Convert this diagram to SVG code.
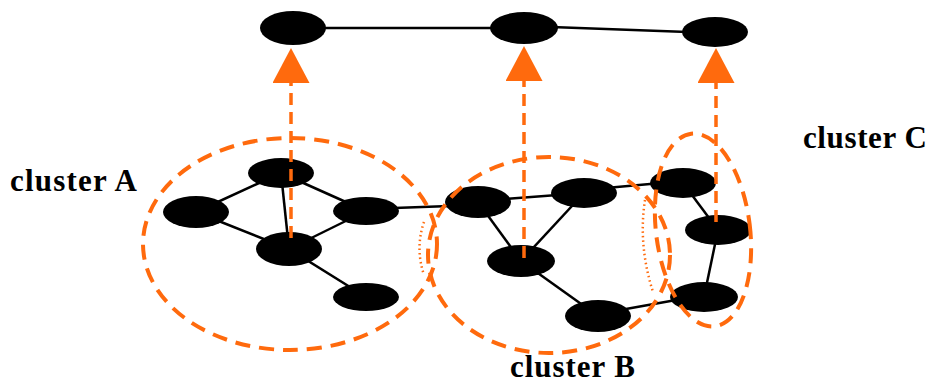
<svg xmlns="http://www.w3.org/2000/svg" width="931" height="383" viewBox="0 0 931 383">
<style>
.node{fill:#000}
.edge{stroke:#000;stroke-width:2.5;fill:none}
.cluster{fill:none;stroke:#FF6A0D;stroke-width:4;stroke-dasharray:15 9}
.dot{fill:none;stroke:#FF6A0D;stroke-width:2.5;stroke-dasharray:1.5 3}
.map{stroke:#FF6A0D;stroke-width:3.5;stroke-dasharray:12 7;fill:none}
.label{font-family:"Liberation Serif","Times New Roman",serif;font-weight:bold;font-size:31px;fill:#000}
</style>
<defs>
<marker id="tri" markerUnits="userSpaceOnUse" markerWidth="36" markerHeight="38" refX="0" refY="18.5" orient="auto" viewBox="0 0 36 38">
<path d="M0,0 L35,18.5 L0,37 Z" fill="#FF6A0D"/>
</marker>
</defs>
<rect width="931" height="383" fill="#fff"/>
<g id="edges">
<line class="edge" x1="293" y1="28" x2="524" y2="28"/>
<line class="edge" x1="524" y1="26" x2="715" y2="33"/>
<line class="edge" x1="281" y1="173" x2="196" y2="212"/>
<line class="edge" x1="281" y1="173" x2="366" y2="211"/>
<line class="edge" x1="281" y1="173" x2="289" y2="249"/>
<line class="edge" x1="196" y1="212" x2="289" y2="249"/>
<line class="edge" x1="366" y1="211" x2="289" y2="249"/>
<line class="edge" x1="289" y1="249" x2="366" y2="297"/>
<line class="edge" x1="366" y1="209" x2="478" y2="205"/>
<line class="edge" x1="478" y1="201" x2="584" y2="193"/>
<line class="edge" x1="478" y1="202" x2="521" y2="261"/>
<line class="edge" x1="584" y1="193" x2="521" y2="261"/>
<line class="edge" x1="521" y1="261" x2="598" y2="316"/>
<line class="edge" x1="584" y1="190" x2="683" y2="181"/>
<line class="edge" x1="598" y1="314" x2="704" y2="295"/>
<line class="edge" x1="683" y1="183" x2="718" y2="230"/>
<line class="edge" x1="718" y1="230" x2="704" y2="297"/>
</g>
<g id="T1"><ellipse class="node" cx="293" cy="28" rx="33" ry="17"/></g>
<g id="T2"><ellipse class="node" cx="524" cy="28" rx="34" ry="16"/></g>
<g id="T3"><ellipse class="node" cx="715" cy="32" rx="33" ry="15"/></g>
<g id="A1"><ellipse class="node" cx="281" cy="173" rx="33" ry="15"/></g>
<g id="A2"><ellipse class="node" cx="196" cy="212" rx="33" ry="16"/></g>
<g id="A3"><ellipse class="node" cx="366" cy="211" rx="33" ry="14"/></g>
<g id="A4"><ellipse class="node" cx="289" cy="249" rx="33" ry="17"/></g>
<g id="A5"><ellipse class="node" cx="366" cy="297" rx="33" ry="14"/></g>
<g id="B1"><ellipse class="node" cx="478" cy="202" rx="33" ry="16"/></g>
<g id="B2"><ellipse class="node" cx="584" cy="193" rx="33" ry="15"/></g>
<g id="B3"><ellipse class="node" cx="521" cy="261" rx="34" ry="16"/></g>
<g id="B4"><ellipse class="node" cx="598" cy="316" rx="33" ry="16"/></g>
<g id="C1"><ellipse class="node" cx="683" cy="183" rx="33" ry="15"/></g>
<g id="C2"><ellipse class="node" cx="718" cy="230" rx="33" ry="15"/></g>
<g id="C3"><ellipse class="node" cx="704" cy="297" rx="34" ry="15"/></g>
<g id="clusterA"><ellipse class="cluster" cx="290" cy="244" rx="147" ry="106"/><text class="label" x="10" y="191" textLength="127">cluster A</text></g>
<g id="clusterB"><ellipse class="cluster" cx="549" cy="255" rx="121" ry="98"/><text class="label" x="510" y="377" textLength="125">cluster B</text></g>
<g id="clusterC"><ellipse class="cluster" cx="703" cy="230" rx="47" ry="97" transform="rotate(-7 703 230)"/><text class="label" x="803" y="148" textLength="124">cluster C</text></g>
<g id="overlaps">
<path class="dot" d="M424 222 Q415 248 424 275"/>
<path class="dot" d="M645 200 Q638 245 653 292"/>
</g>
<g id="mappings">
<line class="map" x1="291" y1="238" x2="291" y2="83" marker-end="url(#tri)"/>
<line class="map" x1="524" y1="258" x2="524" y2="81" marker-end="url(#tri)"/>
<line class="map" x1="716" y1="222" x2="716" y2="83" marker-end="url(#tri)"/>
</g>
</svg>
